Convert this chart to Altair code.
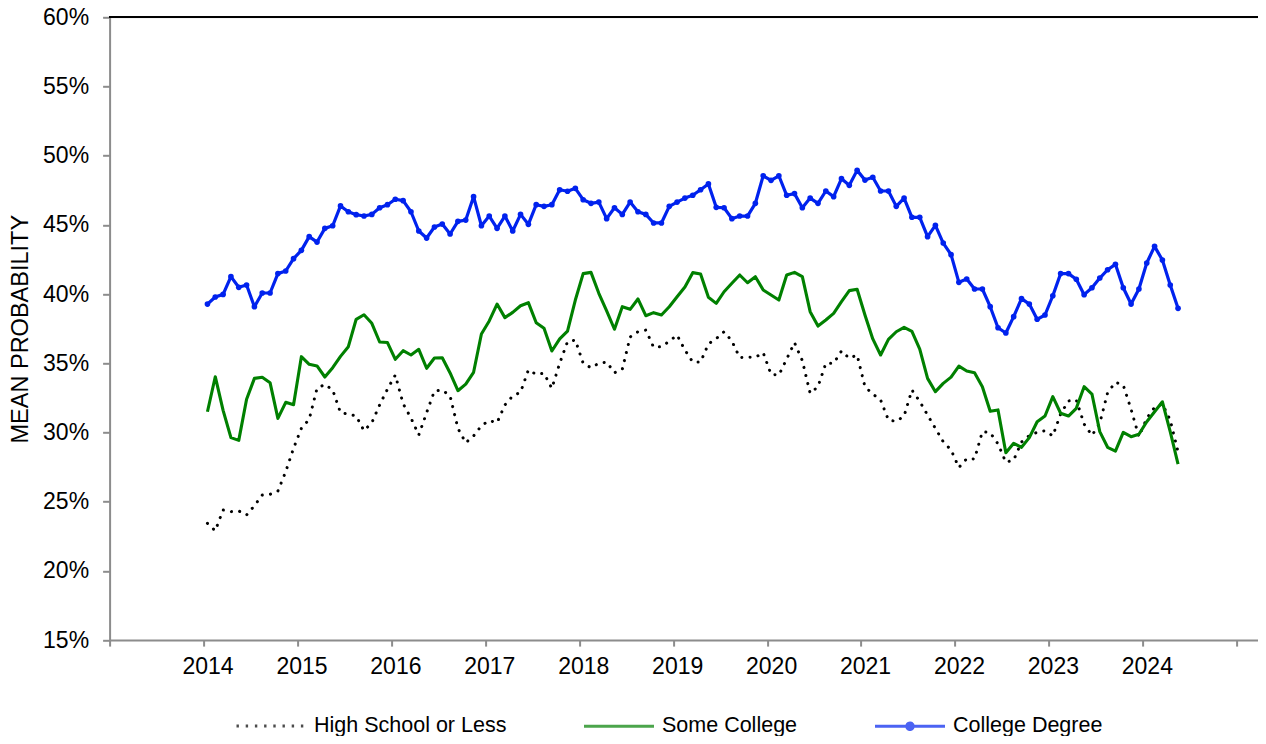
import altair as alt
import pandas as pd

# ---------------- data ----------------
series_names = ["High School or Less", "Some College", "College Degree"]
months = pd.date_range("2014-01-01", periods=125, freq="MS")

high_school = [
    23.44, 22.90, 24.40, 24.28, 24.33, 24.04, 24.71, 25.48, 25.53, 25.77, 27.17, 28.86,
    30.30, 30.95, 33.19, 33.48, 33.07, 31.43, 31.34, 31.19, 30.13, 30.71, 31.99, 33.14,
    34.15, 32.08, 31.05, 29.82, 31.43, 33.00, 33.07, 32.64, 30.30, 29.26, 29.75, 30.49,
    30.86, 30.71, 31.99, 32.64, 32.90, 34.52, 34.20, 34.28, 33.19, 35.00, 36.56, 36.68,
    35.00, 34.68, 35.00, 35.09, 34.32, 34.57, 36.90, 37.28, 37.40, 36.16, 36.20, 36.59,
    37.04, 35.96, 35.09, 35.09, 36.40, 36.78, 37.28, 36.61, 35.41, 35.45, 35.43, 35.77,
    34.20, 34.15, 35.31, 36.49, 35.19, 32.83, 33.31, 35.00, 35.00, 35.89, 35.36, 35.60,
    33.31, 32.78, 32.35, 30.90, 30.80, 31.19, 33.07, 32.25, 31.26, 30.30, 29.33, 28.74,
    27.47, 28.11, 28.09, 30.06, 29.99, 29.17, 27.85, 28.01, 29.31, 29.79, 30.01, 30.13,
    29.75, 31.34, 32.28, 32.35, 30.61, 29.79, 30.66, 32.88, 33.63, 33.43, 31.67, 29.70,
    31.02, 31.82, 32.06, 30.90, 28.60,
]
some_college = [
    31.50, 34.03, 31.60, 29.63, 29.43, 32.40, 33.91, 33.99, 33.60, 31.02, 32.18, 32.01,
    35.48, 34.93, 34.81, 34.01, 34.68, 35.50, 36.20, 38.18, 38.51, 37.89, 36.54, 36.50,
    35.29, 35.91, 35.60, 36.01, 34.64, 35.38, 35.40, 34.30, 33.02, 33.50, 34.35, 37.12,
    38.06, 39.28, 38.30, 38.68, 39.16, 39.38, 37.93, 37.53, 35.89, 36.76, 37.33, 39.57,
    41.48, 41.57, 40.06, 38.78, 37.46, 39.09, 38.90, 39.65, 38.44, 38.66, 38.49, 39.09,
    39.81, 40.51, 41.55, 41.45, 39.77, 39.33, 40.17, 40.78, 41.38, 40.82, 41.26, 40.30,
    39.93, 39.57, 41.38, 41.57, 41.26, 38.73, 37.69, 38.13, 38.61, 39.45, 40.25, 40.35,
    38.49, 36.76, 35.60, 36.73, 37.28, 37.60, 37.31, 36.03, 33.91, 32.95, 33.55, 34.00,
    34.80, 34.44, 34.32, 33.31, 31.53, 31.63, 28.54, 29.22, 28.93, 29.63, 30.78, 31.19,
    32.59, 31.39, 31.19, 31.75, 33.31, 32.78, 30.06, 28.93, 28.66, 30.01, 29.70, 29.87,
    30.78, 31.50, 32.22, 30.06, 27.72,
]
college_degree = [
    39.28, 39.79, 39.98, 41.26, 40.49, 40.66, 39.09, 40.08, 40.08, 41.48, 41.67, 42.56,
    43.16, 44.15, 43.76, 44.75, 44.94, 46.37, 45.95, 45.74, 45.64, 45.76, 46.24, 46.46,
    46.85, 46.75, 45.95, 44.56, 44.05, 44.85, 45.06, 44.34, 45.26, 45.35, 47.04, 44.94,
    45.64, 44.75, 45.64, 44.56, 45.76, 45.04, 46.46, 46.34, 46.46, 47.54, 47.43, 47.64,
    46.82, 46.56, 46.65, 45.45, 46.24, 45.76, 46.65, 45.95, 45.76, 45.14, 45.14, 46.34,
    46.65, 46.94, 47.14, 47.54, 47.96, 46.27, 46.24, 45.45, 45.64, 45.64, 46.56, 48.55,
    48.22, 48.55, 47.14, 47.26, 46.24, 46.94, 46.56, 47.45, 47.04, 48.34, 47.86, 48.94,
    48.24, 48.44, 47.45, 47.45, 46.34, 46.94, 45.55, 45.55, 44.15, 44.97, 43.69, 42.85,
    40.85, 41.09, 40.37, 40.37, 39.09, 37.57, 37.19, 38.37, 39.67, 39.28, 38.18, 38.49,
    39.88, 41.48, 41.48, 41.07, 39.96, 40.46, 41.16, 41.76, 42.15, 40.46, 39.28, 40.37,
    42.25, 43.45, 42.46, 40.66, 38.97,
]
x_ticks = list(range(2013, 2026))
y_ticks = list(range(15, 61, 5))
series_colors = ["#000000", "#008000", "#0022EE"]
series_width = [3, 3.2, 1.4]
legend_dash = [[2.4, 6.8], [1, 0], [1, 0]]
legend_shapes = [
    "stroke",
    "stroke",
    "M-1,0H1M-0.09,0A0.09,0.09,0,1,1,0.09,0A0.09,0.09,0,1,1,-0.09,0Z",
]

# ---------------- table ----------------
t_vals = [d.year + (d.month - 0.5) / 12 for d in months]
rows = []
for name, vals in zip(series_names, [high_school, some_college, college_degree]):
    for t, d, v in zip(t_vals, months, vals):
        rows.append({"t": t, "month": d.strftime("%Y-%m"), "series": name, "value": v})
df = pd.DataFrame(rows)

W = 1148.4
H = 622.8
PX_PER_YEAR = 93.93
x_domain = [2013, 2013 + W / PX_PER_YEAR]

FONT = "Liberation Sans"
GREY = "#8c8c8c"

x_enc = alt.X(
    "t:Q",
    scale=alt.Scale(domain=x_domain, nice=False, zero=False),
    axis=alt.Axis(
        values=x_ticks, title=None, grid=False,
        labelExpr="(datum.value > 2013 && datum.value < 2025) ? toString(datum.value) : ''",
        labelFontSize=23, labelFont=FONT, labelColor="black", labelPadding=9, labelOffset=4,
        tickSize=6, tickColor=GREY, tickWidth=2, domainColor=GREY, domainWidth=2,
        labelFlush=False, labelOverlap=False,
    ),
)
y_enc = alt.Y(
    "value:Q",
    scale=alt.Scale(domain=[15, 60], nice=False, zero=False),
    axis=alt.Axis(
        values=y_ticks, grid=False,
        labelExpr="datum.value + '%'",
        labelFontSize=23, labelFont=FONT, labelColor="black", labelPadding=14,
        tickSize=7, tickColor=GREY, tickWidth=2, domainColor=GREY, domainWidth=2,
        title="MEAN PROBABILITY", titleFont=FONT, titleFontSize=23.5, titleFontWeight="normal",
        titleColor="black", titleAngle=-90, titleX=-82, titleY=H / 2,
        titleAlign="center", titleBaseline="alphabetic",
    ),
)

legend = alt.Legend(
    title=None, orient="none", direction="horizontal",
    legendX=125.4, legendY=671.7, padding=0,
    symbolType="stroke", symbolSize=4900, symbolStrokeWidth=3,
    labelFontSize=21.5, labelFont=FONT, labelColor="black", labelOffset=6,
    labelLimit=0, columnPadding=70,
)

color_scale = alt.Scale(domain=series_names, range=series_colors)
width_scale = alt.Scale(domain=series_names, range=series_width)
dash_scale = alt.Scale(domain=series_names, range=legend_dash)
shape_scale = alt.Scale(domain=series_names, range=legend_shapes)

base = alt.Chart(df)

# dotted series (round-capped dots)
hs_line = base.transform_filter(alt.datum.series == series_names[0]).mark_line(
    color="#000000", strokeWidth=3, strokeDash=[0.1, 8.2], strokeCap="round", strokeJoin="round"
).encode(x=x_enc, y=y_enc, detail="series:N")

# solid series
solid_lines = base.transform_filter(alt.datum.series != series_names[0]).mark_line(
    strokeJoin="round"
).encode(
    x="t:Q", y="value:Q",
    color=alt.Color("series:N", scale=color_scale, legend=legend),
    strokeWidth=alt.StrokeWidth("series:N", scale=width_scale, legend=legend),
    detail="series:N",
)

# markers on the college-degree series
points = base.transform_filter(alt.datum.series == series_names[2]).mark_point(
    filled=True, size=32, opacity=1, color="#0022EE", shape="circle"
).encode(x="t:Q", y="value:Q")

# legend styling source (no data drawn)
legend_src = base.transform_filter("false").mark_point(filled=True).encode(
    x="t:Q", y="value:Q",
    color=alt.Color("series:N", scale=color_scale, legend=legend),
    shape=alt.Shape("series:N", scale=shape_scale, legend=legend),
    strokeDash=alt.StrokeDash("series:N", scale=dash_scale, legend=legend),
)

top_border = alt.Chart(df).mark_rule(color="black", strokeWidth=1.5).encode(
    x=alt.value(0), x2=alt.value(W), y=alt.value(0)
)

chart = alt.layer(hs_line, solid_lines, points, legend_src, top_border).properties(
    width=W, height=H,
    autosize=alt.AutoSizeParams(type="none"),
    padding={"left": 101.6, "top": 9.3, "right": 0, "bottom": 95.9},
).configure_view(stroke=None).configure(font=FONT, background="white")

chart.save("out.html", embed_options={"renderer": "svg", "actions": False})
